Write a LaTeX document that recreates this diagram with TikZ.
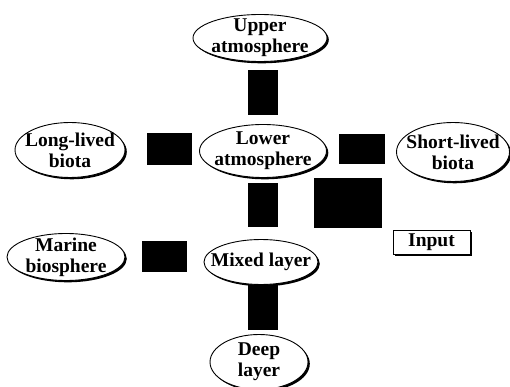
\documentclass[tikz,border=0pt]{standalone}
\usepackage{fontspec}
\setmainfont{Liberation Serif}
\usetikzlibrary{shapes.geometric}
\begin{document}
\begin{tikzpicture}[x=1pt,y=-1pt,
  pool/.style={ellipse,draw=black,line width=0.9pt,fill=white,inner sep=0pt},
  poolshadow/.style={ellipse,fill=black,inner sep=0pt},
  lbl/.style={inner sep=0pt,align=center,font=\fontsize{19.5}{21}\selectfont\bfseries},
  blk/.style={rectangle,fill=black,inner sep=0pt},
  inbox/.style={rectangle,draw=black,line width=0.9pt,fill=white,inner sep=0pt,
    font=\fontsize{19.5}{21}\selectfont\bfseries}]
\useasboundingbox (0,0) rectangle (510,387);
% shadows
\foreach \cx/\cy/\w/\h in {260/38/134/47, 263/151/127/53, 70/150/110/55, 453/152/113/59, 66/257/118/47, 261/262/114/45, 259/362/98/55}{
  \node[poolshadow,minimum width=\w pt,minimum height=\h pt] at (\cx+1.8,\cy+1.8) {};
}
\node[pool,minimum width=134pt,minimum height=47pt] (upper) at (260,38) {};
\node[pool,minimum width=127pt,minimum height=53pt] (lower) at (263,151) {};
\node[pool,minimum width=110pt,minimum height=55pt] (long) at (70,150) {};
\node[pool,minimum width=113pt,minimum height=59pt] (short) at (453,152) {};
\node[pool,minimum width=118pt,minimum height=47pt] (marine) at (66,257) {};
\node[pool,minimum width=114pt,minimum height=45pt] (mixed) at (261,262) {};
\node[pool,minimum width=98pt,minimum height=55pt] (deep) at (259,362) {};
\node[lbl] (tupper) at (upper) {Upper\\atmosphere};
\node[lbl] (tlower) at (lower) {Lower\\atmosphere};
\node[lbl] (tlong) at (long) {Long-lived\\biota};
\node[lbl] (tshort) at (short) {Short-lived\\biota};
\node[lbl] (tmarine) at (marine) {Marine\\biosphere};
\node[lbl] (tmixed) at (mixed) {Mixed layer};
\node[lbl] (tdeep) at (deep) {Deep\\layer};
% input box
\fill[black] (395,232) rectangle (472,256);
\node[inbox,minimum width=77pt,minimum height=24pt] (input) at (431.5,242) {Input};
% black blocks
\node[blk,minimum width=30pt,minimum height=45pt] (b1) at (263,92.5) {};
\node[blk,minimum width=45pt,minimum height=32pt] (b2) at (169.5,149) {};
\node[blk,minimum width=46pt,minimum height=30pt] (b3) at (362,149) {};
\node[blk,minimum width=30pt,minimum height=44pt] (b4) at (263,205) {};
\node[blk,minimum width=68pt,minimum height=50pt] (b5) at (348,203) {};
\node[blk,minimum width=45pt,minimum height=31pt] (b6) at (164.5,256.5) {};
\node[blk,minimum width=30pt,minimum height=45pt] (b7) at (263,307.5) {};
\end{tikzpicture}
\end{document}
